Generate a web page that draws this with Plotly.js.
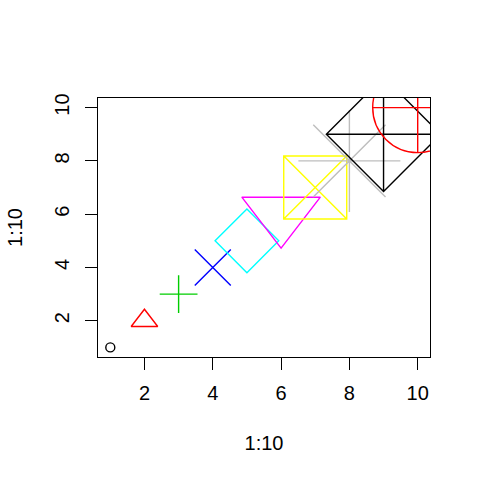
<!DOCTYPE html>
<html>
<head>
<meta charset="utf-8">
<script src="https://cdn.plot.ly/plotly-3.0.1.min.js"></script>
<style>html,body{margin:0;padding:0;background:#fff;}#chart{width:480px;height:480px;}</style>
</head>
<body>
<div id="chart"></div>
<script>
// plot(1:10, pch = 1:10, cex = 1:10, col = 1:10)
const xValues = [1, 2, 3, 4, 5, 6, 7, 8, 9, 10];
const yValues = [1, 2, 3, 4, 5, 6, 7, 8, 9, 10];
const pchSymbols = ["circle-open", "triangle-up-open", "cross-thin-open", "x-thin-open", "diamond-open",
                    "triangle-down-open", "square-x-open", "asterisk-open", "diamond-cross-open", "circle-cross-open"];
const pointColors = ["#000000", "#FF0000", "#00CD00", "#0000FF", "#00FFFF",
                     "#FF00FF", "#FFFF00", "#BEBEBE", "#000000", "#FF0000"];
const markerSizes = [9, 23, 27, 36, 49, 68, 63, 85, 88, 90];
const tickValues = [2, 4, 6, 8, 10];
const tickLabels = ["2", "4", "6", "8", "10"];

const font = {family: "Liberation Sans, Arial, Helvetica, sans-serif", size: 20, color: "#000"};

const trace = {
  x: xValues, y: yValues, type: "scatter", mode: "markers",
  cliponaxis: true, hoverinfo: "none",
  marker: {
    symbol: pchSymbols, size: markerSizes, color: pointColors, opacity: 1,
    line: {color: pointColors, width: 1.4}
  }
};

const axisCommon = {
  range: [0.64, 10.36], showgrid: false, zeroline: false,
  showline: true, mirror: true, linecolor: "#000", linewidth: 1,
  ticks: "outside", ticklen: 12, tickwidth: 1, tickcolor: "#000",
  tickmode: "array", tickvals: tickValues, ticktext: tickLabels,
  tickfont: font, automargin: false
};

const layout = {
  width: 480, height: 480,
  margin: {l: 98, r: 50, t: 98, b: 123},
  paper_bgcolor: "#fff", plot_bgcolor: "#fff",
  showlegend: false, font: font,
  xaxis: Object.assign({}, axisCommon, {ticklabelstandoff: 6, title: {text: "1:10", font: font, standoff: 32}}),
  yaxis: Object.assign({}, axisCommon, {tickangle: -90, ticklabelstandoff: 8, title: {text: "1:10", font: font, standoff: 23}})
};

Plotly.newPlot("chart", [trace], layout, {staticPlot: true, displayModeBar: false});
</script>
</body>
</html>
